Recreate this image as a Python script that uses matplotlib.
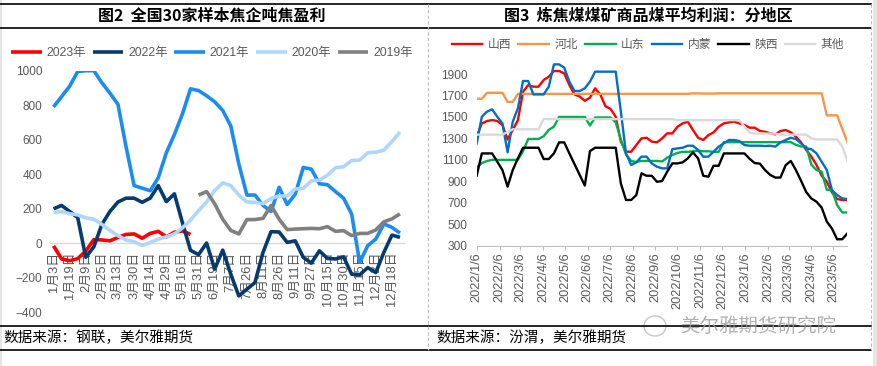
import numpy as np
import pandas as pd
import matplotlib
matplotlib.use('Agg')
import matplotlib.pyplot as plt
from matplotlib.lines import Line2D
from matplotlib.patches import Rectangle, Ellipse

plt.rcParams['font.family'] = ['Liberation Sans', 'Noto Sans CJK SC']

# ---------------- left chart data (category axis) ----------------
cat_labels = ['1月3日', '1月19日', '2月9日', '2月25日', '3月13日', '3月30日', '4月14日',
              '4月29日', '5月16日', '5月31日', '6月19日', '7月7日', '7月26日', '8月11日',
              '8月26日', '9月11日', '9月27日', '10月15日', '10月30日', '11月15日',
              '12月2日', '12月18日']
n_cat = 44

y2023 = [-14, -90, -100, -88, -45, 22, 20, 15, 35, 52, 55, 30, 58, 70, 38, 65, 72, 52]
y2022 = [200, 220, 185, 150, -80, -20, 110, 185, 240, 262, 262, 238, 262, 335, 242, 287,
         120, -40, -65, 2, -149, -39, -178, -304, -265, -227, -52, 68, 66, 6, 15, -81,
         -114, -43, -87, -90, -78, -178, -182, -140, -169, -52, 48, 35]
y2021 = [790, 850, 910, 995, 1000, 1000, 930, 870, 805, 560, 335, 320, 305, 380, 525, 630,
         750, 895, 885, 855, 820, 770, 680, 460, 280, 280, 220, 185, 325, 225, 285, 440,
         430, 345, 340, 300, 262, 170, -110, -13, 25, 113, 93, 60]
y2020 = [180, 184, 172, 165, 148, 140, 110, 75, 45, 20, 10, -12, 5, 25, 38, 55, 90, 135,
         190, 240, 306, 350, 335, 280, 240, 238, 230, 260, 275, 275, 315, 318, 362, 366,
         395, 438, 444, 480, 482, 525, 528, 540, 590, 645]
y2019 = [280, 300, 230, 140, 75, 55, 138, 138, 145, 220, 140, 80, 83, 85, 87, 85, 97, 70,
         74, 45, 58, 58, 78, 125, 142, 171]
start2019 = 18

left_series = [('2023年', y2023, 0, '#FF0000'),
               ('2022年', y2022, 0, '#053B6E'),
               ('2021年', y2021, 0, '#1B8DF0'),
               ('2020年', y2020, 0, '#B0D7FB'),
               ('2019年', y2019, start2019, '#808080')]

# ---------------- right chart data (weekly) ----------------
week0 = '2022-01-06'
shanxi = [1316, 1440, 1462, 1471, 1462, 1425, 1290, 1378, 1470, 1735, 1797, 1782, 1782,
          1844, 1875, 1928, 1928, 1906, 1797, 1710, 1690, 1650, 1680, 1767, 1710, 1600,
          1574, 1502, 1270, 1176, 1176, 1238, 1300, 1306, 1270, 1263, 1300, 1347, 1347,
          1409, 1440, 1456, 1378, 1306, 1285, 1331, 1356, 1409, 1440, 1450, 1456, 1440,
          1425, 1400, 1400, 1369, 1362, 1347, 1338, 1369, 1378, 1356, 1316, 1263, 1192,
          1130, 1052, 952, 896, 797, 735, 726, 726]
hebei = [1670, 1670, 1725, 1725, 1725, 1725, 1640, 1640, 1715, 1715, 1715, 1715, 1715,
         1715, 1715, 1715, 1715, 1715, 1715, 1715, 1715, 1715, 1715, 1715, 1715, 1715,
         1715, 1715, 1715, 1715, 1715, 1715, 1715, 1715, 1715, 1715, 1715, 1715, 1715,
         1715, 1715, 1715, 1720, 1720, 1718, 1718, 1718, 1720, 1720, 1720, 1720, 1720,
         1720, 1720, 1720, 1720, 1720, 1720, 1720, 1720, 1720, 1720, 1720, 1720, 1720,
         1720, 1720, 1720, 1515, 1515, 1515, 1390, 1265]
shandong = [1030, 1070, 1090, 1100, 1100, 1100, 1100, 1100, 1100, 1180, 1295, 1295, 1295,
            1320, 1380, 1410, 1500, 1500, 1500, 1500, 1500, 1500, 1420, 1495, 1495, 1495,
            1495, 1450, 1290, 1150, 1090, 1080, 1090, 1090, 1090, 1090, 1085, 1120, 1145,
            1165, 1175, 1175, 1180, 1185, 1180, 1180, 1175, 1175, 1265, 1265, 1265, 1265,
            1265, 1265, 1265, 1265, 1265, 1265, 1265, 1265, 1265, 1265, 1240, 1225, 1225,
            1055, 1005, 990, 820, 820, 680, 610, 610]
neimeng = [1254, 1502, 1549, 1571, 1502, 1440, 1170, 1456, 1580, 1835, 1835, 1710, 1710,
           1710, 1782, 1990, 1990, 1959, 1829, 1742, 1742, 1767, 1829, 1922, 1922, 1922,
           1922, 1922, 1550, 1160, 1052, 1077, 1130, 1130, 1067, 1036, 1021, 1021, 1200,
           1207, 1213, 1232, 1232, 1192, 1130, 1130, 1176, 1223, 1254, 1285, 1285, 1276,
           1238, 1232, 1232, 1232, 1229, 1232, 1223, 1263, 1285, 1306, 1294, 1254, 1207,
           1200, 1160, 1083, 1005, 818, 772, 741, 735]
shaanxi = [952, 1160, 1160, 1160, 1083, 1005, 850, 1005, 1114, 1213, 1213, 1213, 1213,
           1108, 1108, 1160, 1263, 1263, 1160, 1060, 960, 860, 1182, 1213, 1213, 1213,
           1213, 1213, 880, 726, 726, 772, 974, 952, 952, 896, 902, 990, 1067, 1067, 1077,
           1114, 1170, 1114, 952, 943, 1045, 1045, 1160, 1160, 1160, 1160, 1160, 1110,
           1070, 1065, 1005, 960, 935, 935, 1050, 1090, 1005, 905, 800, 740, 710, 655,
           525, 460, 360, 360, 415]
other = [1335, 1335, 1335, 1335, 1335, 1335, 1360, 1385, 1385, 1385, 1385, 1385, 1385,
         1480, 1480, 1480, 1480, 1480, 1480, 1480, 1480, 1480, 1480, 1480, 1480, 1480,
         1480, 1480, 1480, 1480, 1480, 1480, 1480, 1480, 1480, 1480, 1480, 1480, 1480,
         1470, 1470, 1470, 1470, 1470, 1470, 1470, 1470, 1470, 1470, 1470, 1470, 1470,
         1410, 1355, 1345, 1345, 1345, 1345, 1345, 1335, 1335, 1335, 1335, 1335, 1335,
         1300, 1290, 1290, 1290, 1290, 1290, 1225, 1090]

right_series = [('山西', shanxi, '#FF0000'), ('河北', hebei, '#F79646'),
                ('山东', shandong, '#00B050'), ('内蒙', neimeng, '#0070C0'),
                ('陕西', shaanxi, '#000000'), ('其他', other, '#D9D9D9')]

W, H = 877, 366
fig = plt.figure(figsize=(W / 100, H / 100), dpi=100)
fig.patch.set_facecolor('white')


def fx(px):
    return px / W


def fy(py):
    return 1 - py / H


def hline(y, x0, x1, **kw):
    fig.add_artist(Line2D([fx(x0), fx(x1)], [fy(y), fy(y)], transform=fig.transFigure, **kw))


def vline(x, y0, y1, **kw):
    fig.add_artist(Line2D([fx(x), fx(x)], [fy(y0), fy(y1)], transform=fig.transFigure, **kw))


tick_col = '#595959'

# frame lines
for yy in (4, 28, 326, 350):
    hline(yy, 0, 871, color='black', lw=1.2)
vline(428, 4, 350, color='#BBBBBB', lw=0.8, ls=(0, (3, 2)))
vline(871, 4, 350, color='#BBBBBB', lw=0.8, ls=(0, (3, 2)))
fig.add_artist(Rectangle((fx(873), 0), fx(4), 1, transform=fig.transFigure,
                         color='#E6E6E6', lw=0))
fig.add_artist(Rectangle((0, 0), fx(2), 1, transform=fig.transFigure,
                         color='#E6E6E6', lw=0))

# titles
fig.text(fx(212), fy(16), '图2  全国30家样本焦企吨焦盈利', ha='center', va='center',
         fontsize=11.5, fontweight='bold', family=['Noto Sans CJK SC'])
fig.text(fx(648), fy(16), '图3  炼焦煤煤矿商品煤平均利润：分地区', ha='center', va='center',
         fontsize=11.5, fontweight='bold', family=['Noto Sans CJK SC'])

# source notes
fig.text(fx(3), fy(338), '数据来源：钢联，美尔雅期货', ha='left', va='center',
         fontsize=10.5, family=['Noto Sans CJK SC'])
fig.text(fx(436), fy(338), '数据来源：汾渭，美尔雅期货', ha='left', va='center',
         fontsize=10.5, family=['Noto Sans CJK SC'])

# watermark
fig.add_artist(Ellipse((fx(655), fy(326)), fx(22), 20 / H, transform=fig.transFigure,
                       fill=False, ec='#B0B0B0', lw=1, alpha=0.7))
fig.text(fx(680), fy(326), '美尔雅期货研究院', ha='left', va='center', fontsize=14,
         color='#9C9C9C', alpha=0.8, family=['Noto Sans CJK SC'])

# ---------------- left chart ----------------
axL = fig.add_axes([fx(49.5), fy(312.5), fx(404 - 49.5), (312.5 - 70.7) / H])
axL.set_facecolor('none')
for s in ('top', 'right', 'left'):
    axL.spines[s].set_visible(False)
axL.spines['bottom'].set_position(('data', 0))
axL.spines['bottom'].set_color('#D9D9D9')
axL.spines['bottom'].set_linewidth(1)
axL.spines['bottom'].set_zorder(0)

handles = []
for name, vals, start, col in left_series:
    xs = np.arange(start, start + len(vals))
    ln, = axL.plot(xs, vals, color=col, lw=2.6, solid_capstyle='butt', label=name)
    handles.append(ln)
axL.set_xlim(-0.5, n_cat - 0.5)
axL.set_ylim(-400, 1000)
axL.set_yticks(np.arange(-400, 1001, 200))
axL.tick_params(axis='y', length=0, pad=5, labelsize=8.5, labelcolor=tick_col)
axL.set_xticks(np.arange(0, n_cat, 2))
axL.set_xticklabels(cat_labels, rotation=90, fontsize=9.3, color=tick_col, va='top')
axL.tick_params(axis='x', length=0, pad=6)

fig.legend(handles=handles, loc='center', bbox_to_anchor=(fx(212), fy(53)), ncol=5,
           frameon=False, fontsize=8.8, labelcolor=tick_col, handlelength=2.5,
           handletextpad=0.4, columnspacing=0.55, borderpad=0, borderaxespad=0)

# ---------------- right chart ----------------
dates = pd.date_range(week0, periods=len(shanxi), freq='7D')
axR = fig.add_axes([fx(476.7), fy(245.7), fx(847.4 - 476.7), (245.7 - 63.3) / H])
axR.set_facecolor('none')
rh = []
for name, vals, col in right_series:
    ln, = axR.plot(dates, vals, color=col, lw=1.7, label=name)
    rh.append(ln)
axR.set_xlim(dates[0], dates[-1])
axR.set_ylim(300, 2000)
axR.set_yticks(np.arange(300, 2000, 200))
axR.tick_params(axis='y', length=0, pad=6.5, labelsize=8.6, labelcolor=tick_col)
mticks = pd.date_range('2022-01-01', '2023-05-06', freq='MS') + pd.Timedelta(days=5)
axR.set_xticks(mticks)
axR.set_xticklabels([f'{d.year}/{d.month}/{d.day}' for d in mticks], rotation=90,
                    fontsize=9.2, color=tick_col)
axR.tick_params(axis='x', length=3, width=0.8, color='#BFBFBF', pad=2)
for s in ('top', 'right', 'left'):
    axR.spines[s].set_visible(False)
axR.spines['bottom'].set_color('#BFBFBF')
axR.spines['bottom'].set_linewidth(0.8)

fig.legend(handles=rh, loc='center', bbox_to_anchor=(fx(648), fy(45)), ncol=6,
           frameon=False, fontsize=8.5, labelcolor=tick_col, handlelength=2.6,
           handletextpad=0.45, columnspacing=0.6, borderpad=0, borderaxespad=0)

fig.savefig('out.png', dpi=100, facecolor='white')
